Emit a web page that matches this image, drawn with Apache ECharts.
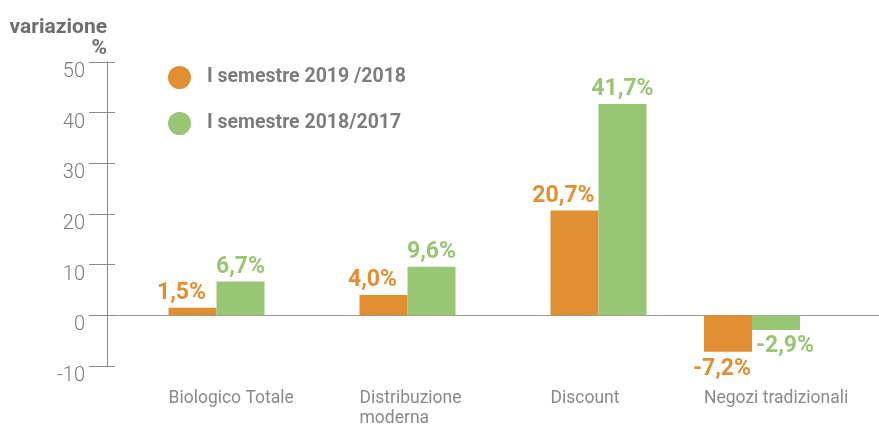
<!DOCTYPE html>
<html>
<head>
<meta charset="utf-8">
<script src="https://cdn.jsdelivr.net/npm/echarts@6/dist/echarts.min.js"></script>
<style>
  html, body { margin: 0; padding: 0; background: #fff; }
  #main { width: 879px; height: 426px; }
</style>
</head>
<body>
<div id="main"></div>
<script>
// dati
const categories = ['Biologico Totale', 'Distribuzione\nmoderna', 'Discount', 'Negozi tradizionali']
const seriesNames = ['I semestre 2019 /2018', 'I semestre 2018/2017']
const sem2019 = [1.5, 4.0, 20.7, -7.2]
const sem2018 = [6.7, 9.6, 41.7, -2.9]
const yTicks = [-10, 0, 10, 20, 30, 40, 50]

const font = 'Roboto, "Noto Sans", sans-serif'
const orange = '#e08f33'
const green = '#99c674'
const grey = '#8a8a8a'

const yMin = yTicks[0]
const yMax = yTicks[yTicks.length - 1]
const gridTop = 62
const gridBottom = 60
const barW = 48
// le prime tre categorie sono equidistanti, "Negozi tradizionali" è più vicina
const nMain = 3

function fmt(p) {
  return p.value.toFixed(1).replace('.', ',') + '%'
}

// etichette spostate come nel grafico originale
function items(values, offPos, offNeg) {
  return values.map((v) => ({
    value: v,
    label: { offset: v < 0 ? offNeg : offPos }
  }))
}

function hiddenY(gridIndex) {
  return {
    type: 'value', gridIndex: gridIndex, min: yMin, max: yMax, interval: 10,
    show: false, splitLine: { show: false }
  }
}

function catAxis(gridIndex, data) {
  return {
    type: 'category', gridIndex: gridIndex, data: data,
    axisLine: { show: false, onZero: false },
    axisTick: { show: false },
    axisLabel: {
      interval: 0, align: 'left', margin: 23,
      padding: [0, 0, 0, -barW],
      fontFamily: font, fontSize: 17.5, lineHeight: 20, color: grey
    }
  }
}

function barSeries(k, axisIndex, values, color, offPos, offNeg) {
  return {
    name: seriesNames[k],
    type: 'bar',
    xAxisIndex: axisIndex,
    yAxisIndex: axisIndex + 1,
    barWidth: barW,
    barGap: '0%',
    itemStyle: { color: color },
    label: {
      show: true, position: 'outside', distance: 3, formatter: fmt,
      fontFamily: font, fontWeight: 'bold', fontSize: 23, color: color
    },
    data: items(values, offPos, offNeg)
  }
}

let myChart = echarts.init(document.getElementById('main')) //inizializza
myChart.setOption({
  animation: false,
  legend: {
    orient: 'vertical',
    left: 168,
    top: 66,
    padding: 0,
    icon: 'circle',
    itemWidth: 23,
    itemHeight: 23,
    itemGap: 23,
    data: seriesNames,
    textStyle: {
      fontFamily: font, fontWeight: 'bold', fontSize: 19.5, color: '#7d7d7d',
      padding: [0, 0, 0, 11]
    }
  },
  grid: [
    { left: 107, right: 0, top: gridTop, bottom: gridBottom, outerBoundsMode: 'none' },
    { left: 121, right: 185, top: gridTop, bottom: gridBottom, outerBoundsMode: 'none' },
    { left: 676, right: 51, top: gridTop, bottom: gridBottom, outerBoundsMode: 'none' }
  ],
  xAxis: [
    {
      type: 'category', gridIndex: 0, data: categories,
      axisLine: { onZero: true, lineStyle: { color: '#999', width: 1 } },
      axisTick: { show: false },
      axisLabel: { show: false }
    },
    catAxis(1, categories.slice(0, nMain)),
    catAxis(2, categories.slice(nMain))
  ],
  yAxis: [
    {
      type: 'value', gridIndex: 0, position: 'left',
      min: yMin, max: yMax, interval: 10,
      name: 'variazione\n%',
      nameLocation: 'end',
      nameGap: 3,
      nameTextStyle: {
        fontFamily: font, fontWeight: 'bold', fontSize: 21, color: '#6e6e6e',
        align: 'right', verticalAlign: 'bottom', lineHeight: 21
      },
      axisLine: { show: true, lineStyle: { color: '#8c8c8c' } },
      axisTick: { show: true, length: 18, lineStyle: { color: '#8c8c8c' } },
      axisLabel: {
        margin: 22, verticalAlign: 'top',
        fontFamily: 'Roboto', fontWeight: 300, fontSize: 20, color: '#7a7a7a'
      },
      splitLine: { show: false }
    },
    {
      type: 'value', gridIndex: 0, position: 'left',
      min: yMin, max: yMax, interval: 10,
      axisLine: { show: false },
      axisTick: { show: true, inside: true, length: 8, lineStyle: { color: '#8c8c8c' } },
      axisLabel: { show: false },
      splitLine: { show: false }
    },
    hiddenY(1),
    hiddenY(2)
  ],
  series: [
    barSeries(0, 1, sem2019.slice(0, nMain), orange, [-11, 0], [-6, 3]),
    barSeries(1, 1, sem2018.slice(0, nMain), green, [0, 0], [9, 2]),
    barSeries(0, 2, sem2019.slice(nMain), orange, [-11, 0], [-6, 3]),
    barSeries(1, 2, sem2018.slice(nMain), green, [0, 0], [9, 2])
  ]
})
</script>
</body>
</html>
